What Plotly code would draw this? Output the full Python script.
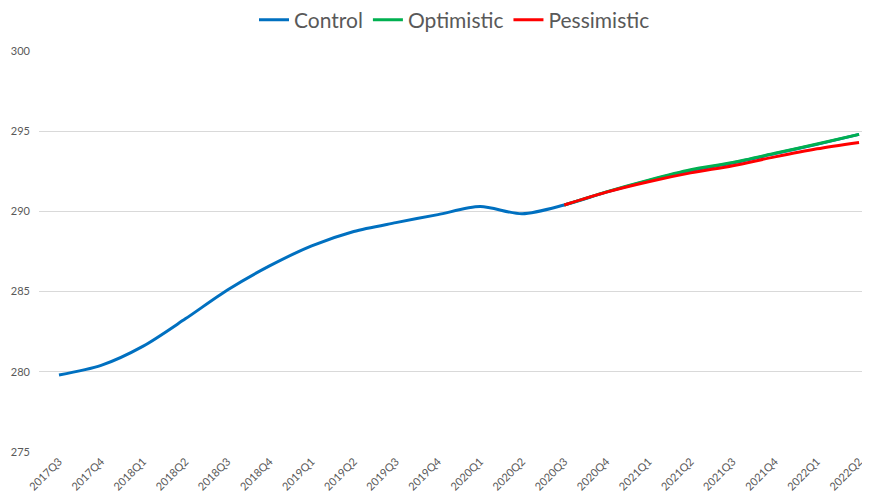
import plotly.graph_objects as go

quarters = ["2017Q3", "2017Q4", "2018Q1", "2018Q2", "2018Q3", "2018Q4",
            "2019Q1", "2019Q2", "2019Q3", "2019Q4", "2020Q1", "2020Q2",
            "2020Q3", "2020Q4", "2021Q1", "2021Q2", "2021Q3", "2021Q4",
            "2022Q1", "2022Q2"]

control = [279.8, 280.4, 281.6, 283.3, 285.1, 286.6,
           287.85, 288.75, 289.3, 289.8, 290.3, 289.85,
           290.4, 291.2, 291.92, 292.55, 293.02, 293.6,
           294.18, 294.8]

optimistic = [None] * 12 + [290.4, 291.22, 291.95, 292.6, 293.05, 293.62,
                            294.2, 294.8]

pessimistic = [None] * 12 + [290.4, 291.2, 291.85, 292.4, 292.85, 293.4,
                             293.9, 294.3]

fig = go.Figure()
series = [("Control", control, "#0070C0"),
          ("Optimistic", optimistic, "#00B050"),
          ("Pessimistic", pessimistic, "#FF0000")]
for name, vals, col in series:
    fig.add_trace(go.Scatter(
        x=list(range(len(quarters))), y=vals, name=name, mode="lines",
        line=dict(color=col, width=3, shape="spline", smoothing=0.8),
        connectgaps=False,
    ))

# page body has an 8px default margin, so the figure is sized/offset to fit
fig.update_layout(
    width=862, height=488,
    margin=dict(l=31, r=0, t=43, b=44, autoexpand=False),
    paper_bgcolor="white", plot_bgcolor="white",
    font=dict(family="Lato, Roboto, sans-serif", color="#595959"),
    showlegend=True,
    legend=dict(orientation="h", x=0.5, xanchor="center",
                y=1.0773, yanchor="middle", yref="paper",
                font=dict(size=21, color="#595959"),
                itemwidth=30, tracegroupgap=0),
)

fig.update_xaxes(
    tickmode="array", tickvals=list(range(len(quarters))), ticktext=quarters,
    tickangle=-45, range=[-0.475, 19.26], showgrid=False, zeroline=False,
    showline=False, tickfont=dict(size=11, color="#595959"), ticks="",
    automargin=False,
)
fig.update_yaxes(
    range=[275, 300], dtick=5, showgrid=True, gridcolor="#D9D9D9",
    gridwidth=1, zeroline=False, showline=False, ticks="",
    tickfont=dict(size=11, color="#595959"), ticklabelstandoff=8,
    automargin=False,
)

fig.write_html("out.html")
